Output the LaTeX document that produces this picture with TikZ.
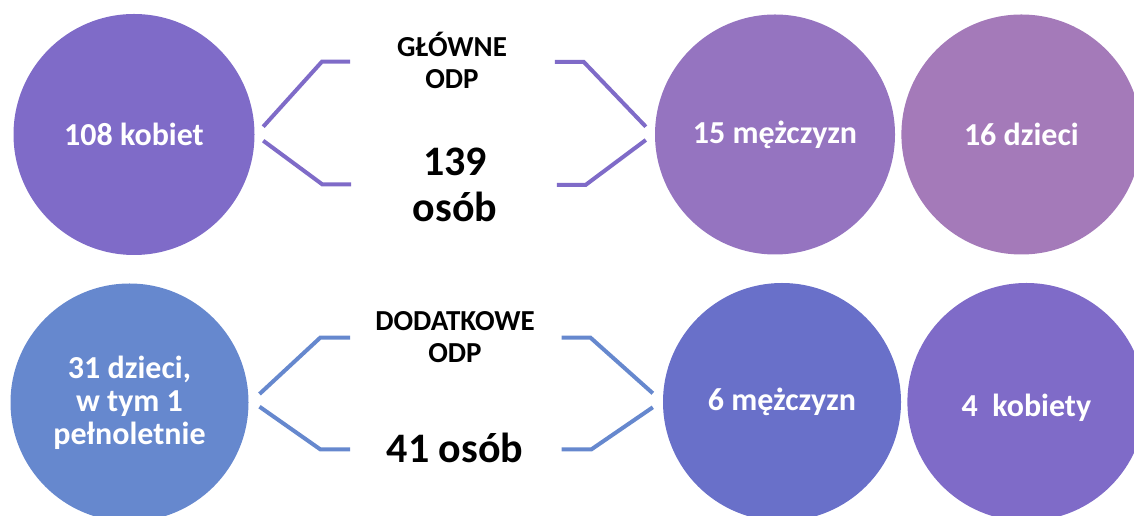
\documentclass[tikz,border=0pt]{standalone}
\usepackage{fontspec}
\setmainfont{Carlito}
\usetikzlibrary{positioning}
\definecolor{purpleDisc}{RGB}{127,107,200}
\definecolor{lilacDisc}{RGB}{149,116,192}
\definecolor{mauveDisc}{RGB}{164,122,185}
\definecolor{blueDisc}{RGB}{102,136,206}
\definecolor{indigoDisc}{RGB}{105,112,201}

\begin{document}
\begin{tikzpicture}[x=1pt, y=1pt,
    disc/.style={circle, fill=#1, minimum size=240pt, inner sep=0pt, align=center, text=white, font=\fontsize{32}{33}\selectfont\bfseries},
    brace/.style={line width=4pt, draw=#1},
    caption/.style={align=center, font=\fontsize{29}{32}\selectfont\bfseries},
    total/.style={align=center, font=\fontsize{42}{46}\selectfont\bfseries}
]
\clip (0,0) rectangle (1134,516);

% main group
\node[disc=purpleDisc, minimum size=241pt] (k1) at (134,381.5) {108 kobiet};
\node[disc=lilacDisc] (m1) at (775,381.5) {15 mężczyzn};
\node[disc=mauveDisc, right=6pt of m1] (d1) {16 dzieci};

\node[caption] (main) at (452,456) {GŁÓWNE\\ODP};
\node[total] (mainsum) at (455,331) {139\\osób};

\draw[brace=purpleDisc] ([shift={(8.5,7.8)}]k1.east) -- ++(58.7,65) -- ++(28.3,0);
\draw[brace=purpleDisc] ([shift={(8.5,-6.2)}]k1.east) -- ++(59,-43.6) -- ++(29,0);
\draw[brace=purpleDisc] ([shift={(-9,7.8)}]m1.west) -- ++(-62,64.7) -- ++(-29,0);
\draw[brace=purpleDisc] ([shift={(-9,-5.5)}]m1.west) -- ++(-60.3,-45) -- ++(-28.7,0);

% extra group
\node[disc=blueDisc, minimum size=238pt] (d2) at (129.5,113.5) {31 dzieci,\\w tym 1\\pełnoletnie};
\node[disc=indigoDisc, minimum size=238pt] (m2) at (782,114) {6 mężczyzn};
\node[disc=purpleDisc, minimum size=238pt, text depth=0pt, text height=29pt, right=6pt of m2] (k2) {4~~kobiety};

\node[caption] (extra) at (455,178.5) {DODATKOWE\\ODP};
\node[total, anchor=base] (extrasum) at (455,53.3) {41 osób};

\draw[brace=blueDisc] ([shift={(10.8,8.5)}]d2.east) -- ++(60.7,56.3) -- ++(30,0);
\draw[brace=blueDisc] ([shift={(10.8,-4.2)}]d2.east) -- ++(60.7,-42.6) -- ++(30,0);
\draw[brace=blueDisc] ([shift={(-10,8.7)}]m2.west) -- ++(-62.3,55.6) -- ++(-29,0);
\draw[brace=blueDisc] ([shift={(-10,-5.3)}]m2.west) -- ++(-61.3,-42) -- ++(-30,0);
\end{tikzpicture}
\end{document}
